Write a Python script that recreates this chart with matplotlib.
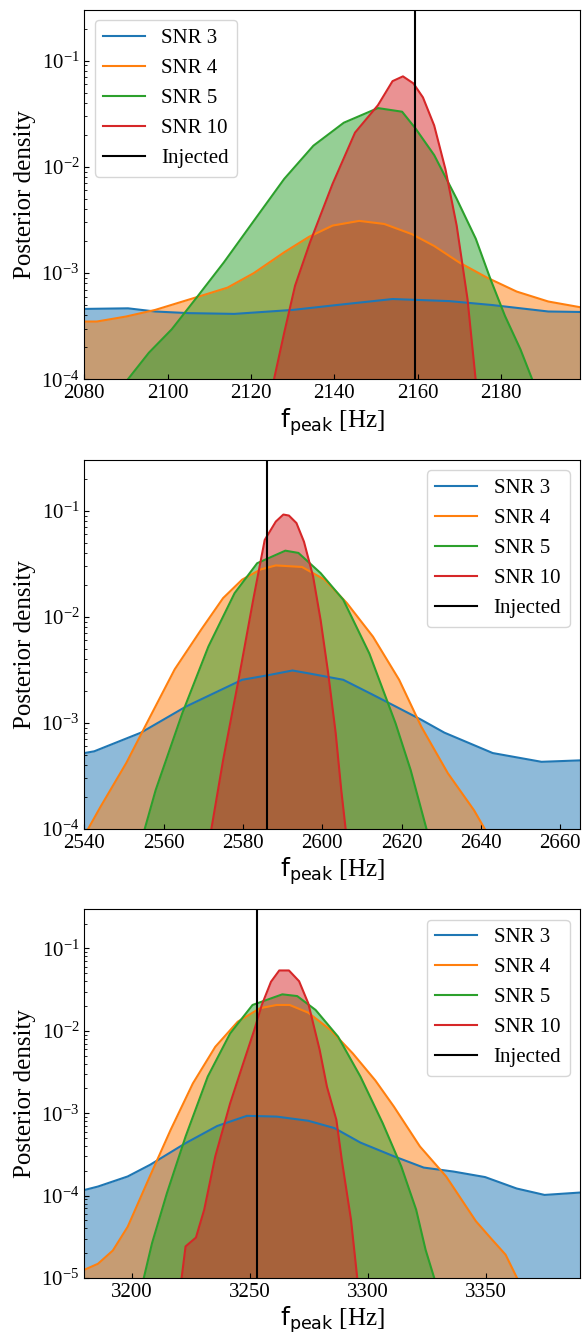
import numpy as np
import matplotlib
matplotlib.use('Agg')
import matplotlib.pyplot as plt

plt.rcParams['font.family'] = ['Liberation Serif', 'DejaVu Serif']
plt.rcParams['mathtext.fontset'] = 'stix'

# --- panel 1 ---
p1_inj = 2159.3
p1_snr3_x = [2080, 2090.5, 2097, 2105, 2116, 2130, 2140.5, 2154, 2159.5, 2167.6, 2178, 2191.4, 2200]
p1_snr3_y = [4.6e-4, 4.66e-4, 4.35e-4, 4.2e-4, 4.13e-4, 4.5e-4, 5.0e-4, 5.7e-4, 5.6e-4, 5.45e-4, 5.0e-4, 4.35e-4, 4.3e-4]
p1_snr4_x = [2080, 2083, 2090, 2097, 2108, 2114.4, 2120.7, 2128, 2134, 2139.6, 2146, 2152, 2158.6, 2164,
             2170, 2176.6, 2183.8, 2191.4, 2200]
p1_snr4_y = [3.5e-4, 3.5e-4, 3.9e-4, 4.5e-4, 6.1e-4, 7.3e-4, 1.0e-3, 1.57e-3, 2.2e-3, 2.8e-3, 3.1e-3, 2.9e-3,
             2.33e-3, 1.8e-3, 1.26e-3, 9.1e-4, 6.7e-4, 5.4e-4, 4.7e-4]
p1_snr5_x = [2088.5, 2095.5, 2101, 2107, 2113.5, 2120.7, 2128, 2135, 2142.3, 2150.5, 2156.3, 2159.5, 2164,
             2169.4, 2174, 2177.5, 2181, 2184.7, 2188.5]
p1_snr5_y = [8e-5, 1.78e-4, 2.96e-4, 5.9e-4, 1.26e-3, 3.1e-3, 7.7e-3, 1.58e-2, 2.6e-2, 3.57e-2, 3.3e-2, 2.3e-2,
             1.29e-2, 5.0e-3, 2.1e-3, 8.8e-4, 3.95e-4, 1.92e-4, 8e-5]
p1_snr10_x = [2125, 2128, 2130.6, 2134.2, 2139.6, 2145, 2150.5, 2154, 2156.5, 2159, 2161.3, 2164, 2166.7,
              2169.4, 2172, 2174.2]
p1_snr10_y = [8e-5, 2.75e-4, 7.6e-4, 1.95e-3, 6.9e-3, 2.1e-2, 3.8e-2, 6.4e-2, 7.1e-2, 6.1e-2, 4.5e-2, 2.45e-2,
              9.5e-3, 2.8e-3, 5.7e-4, 8e-5]

# --- panel 2 ---
p2_inj = 2586
p2_snr3_x = [2540, 2542.5, 2554.3, 2565.7, 2579.8, 2586, 2592.5, 2597.7, 2605.3, 2612.8, 2618.5, 2625,
             2630.8, 2643, 2655.3, 2666]
p2_snr3_y = [5.2e-4, 5.4e-4, 8.1e-4, 1.43e-3, 2.55e-3, 2.8e-3, 3.12e-3, 2.88e-3, 2.55e-3, 1.84e-3, 1.43e-3,
             1.07e-3, 8.1e-4, 5.2e-4, 4.3e-4, 4.45e-4]
p2_snr4_x = [2539.5, 2544, 2550.6, 2556.2, 2562.8, 2569.4, 2575, 2579.8, 2584.5, 2588.3, 2594.9, 2600.6,
             2606.2, 2612.8, 2619.4, 2625, 2631.7, 2638.3, 2642.5]
p2_snr4_y = [8e-5, 1.6e-4, 4.2e-4, 1.07e-3, 3.2e-3, 7.5e-3, 1.5e-2, 2.24e-2, 2.8e-2, 3.05e-2, 2.95e-2, 2.24e-2,
             1.35e-2, 6.5e-3, 2.55e-3, 9.2e-4, 3.35e-4, 1.5e-4, 8e-5]
p2_snr5_x = [2554.5, 2558, 2564.7, 2571.3, 2577.9, 2583.6, 2590.7, 2594, 2599.6, 2605.3, 2611.9, 2618.5,
             2622.3, 2627]
p2_snr5_y = [8e-5, 2.33e-4, 1.23e-3, 5.25e-3, 1.67e-2, 3.2e-2, 4.2e-2, 4.0e-2, 2.58e-2, 1.45e-2, 4.5e-3,
             9.9e-4, 3.6e-4, 8e-5]
p2_snr10_x = [2571.6, 2575, 2578.9, 2582.6, 2585.5, 2588.3, 2590.2, 2591.6, 2593.5, 2595.4, 2597.7, 2599.6,
              2601.5, 2603.4, 2604.8, 2606.2]
p2_snr10_y = [8e-5, 4.45e-4, 2.55e-3, 1.45e-2, 5.3e-2, 7.9e-2, 9.2e-2, 9.0e-2, 7.65e-2, 5.1e-2, 2.4e-2,
              9.3e-3, 2.95e-3, 8e-4, 2.33e-4, 8e-5]

# --- panel 3 ---
p3_inj = 3253
p3_snr3_x = [3180, 3185.8, 3198.4, 3207.9, 3222.9, 3236.3, 3248.9, 3261.5, 3274.9, 3286, 3297, 3311.2,
             3323.8, 3336.4, 3349.8, 3363.2, 3375, 3390]
p3_snr3_y = [1.17e-4, 1.29e-4, 1.71e-4, 2.37e-4, 4.33e-4, 7.0e-4, 9.3e-4, 9.1e-4, 8.1e-4, 6.6e-4, 4.4e-4,
             3.0e-4, 2.19e-4, 1.96e-4, 1.68e-4, 1.22e-4, 1.02e-4, 1.09e-4]
p3_snr4_x = [3180, 3185.8, 3192.1, 3198.4, 3207.1, 3216.6, 3226, 3235.5, 3245, 3254.4, 3261.5, 3267, 3274.9,
             3284.4, 3293.8, 3303.3, 3311.2, 3322.2, 3333.3, 3345.9, 3352.2, 3358.5, 3365]
p3_snr4_y = [1.26e-5, 1.49e-5, 2.16e-5, 4.2e-5, 1.55e-4, 6.3e-4, 2.3e-3, 6.4e-3, 1.29e-2, 1.88e-2, 2.06e-2,
             2.06e-2, 1.66e-2, 1.02e-2, 5.3e-3, 2.5e-3, 1.2e-3, 3.95e-4, 1.71e-4, 4.9e-5, 3.05e-5, 1.92e-5, 8e-6]
p3_snr5_x = [3204.4, 3208.7, 3215, 3222.9, 3232.3, 3241.8, 3251.3, 3263.9, 3270.2, 3278, 3287.5, 3297,
             3306.4, 3314.3, 3320.6, 3324.6, 3329.3]
p3_snr5_y = [8e-6, 2.65e-5, 1.07e-4, 5.2e-4, 2.78e-3, 9.3e-3, 2.06e-2, 2.77e-2, 2.64e-2, 1.79e-2, 8.5e-3,
             2.78e-3, 7.6e-4, 2.26e-4, 6.75e-5, 2.2e-5, 8e-6]
p3_snr10_x = [3220.8, 3222.9, 3227.3, 3230.8, 3235.5, 3241.8, 3247.3, 3252, 3255.2, 3259.1, 3262.6, 3266.7,
              3271, 3274.9, 3279.7, 3282.8, 3286.8, 3289.1, 3293, 3296]
p3_snr10_y = [8e-6, 2.42e-5, 3.1e-5, 6.75e-5, 3.0e-4, 1.32e-3, 4.0e-3, 1.02e-2, 2.06e-2, 3.94e-2, 5.4e-2,
              5.4e-2, 4.0e-2, 2.15e-2, 5.9e-3, 2.1e-3, 8.3e-4, 2.7e-4, 5.1e-5, 8e-6]

labels = ['SNR 3', 'SNR 4', 'SNR 5', 'SNR 10']
colors = ['C0', 'C1', 'C2', 'C3']

panels = [
    dict(curves=[(p1_snr3_x, p1_snr3_y), (p1_snr4_x, p1_snr4_y), (p1_snr5_x, p1_snr5_y), (p1_snr10_x, p1_snr10_y)],
         inj=p1_inj, xlim=(2080, 2199), ylim=(1e-4, 0.3), xticks=[2080, 2100, 2120, 2140, 2160, 2180],
         loc='upper left', rect=[0.1446, 0.7152, 0.8502, 0.2774]),
    dict(curves=[(p2_snr3_x, p2_snr3_y), (p2_snr4_x, p2_snr4_y), (p2_snr5_x, p2_snr5_y), (p2_snr10_x, p2_snr10_y)],
         inj=p2_inj, xlim=(2540, 2665), ylim=(1e-4, 0.3), xticks=[2540, 2560, 2580, 2600, 2620, 2640, 2660],
         loc='upper right', rect=[0.1446, 0.3776, 0.8502, 0.2770]),
    dict(curves=[(p3_snr3_x, p3_snr3_y), (p3_snr4_x, p3_snr4_y), (p3_snr5_x, p3_snr5_y), (p3_snr10_x, p3_snr10_y)],
         inj=p3_inj, xlim=(3180, 3390), ylim=(1e-5, 0.3), xticks=[3200, 3250, 3300, 3350],
         loc='upper right', rect=[0.1446, 0.0405, 0.8502, 0.2770]),
]

fig = plt.figure(figsize=(5.83, 13.32), dpi=100)

for p in panels:
    ax = fig.add_axes(p['rect'])
    for (x, y), lab, c in zip(p['curves'], labels, colors):
        ax.plot(x, y, color=c, lw=1.5, label=lab)
        ax.fill_between(x, y, 1e-12, color=c, alpha=0.5, lw=0)
    ax.axvline(p['inj'], color='k', lw=1.5, label='Injected')
    ax.set_yscale('log')
    ax.set_xlim(*p['xlim'])
    ax.set_ylim(*p['ylim'])
    ax.set_xticks(p['xticks'])
    ax.tick_params(which='both', direction='in', labelsize=15)
    ax.set_ylabel('Posterior density', fontsize=18)
    ax.set_xlabel(r'$\mathrm{f_{peak}}$ [Hz]', fontsize=18, labelpad=2, math_fontfamily='dejavusans')
    ax.legend(loc=p['loc'], fontsize=15)

fig.savefig('out.png', dpi=100)
